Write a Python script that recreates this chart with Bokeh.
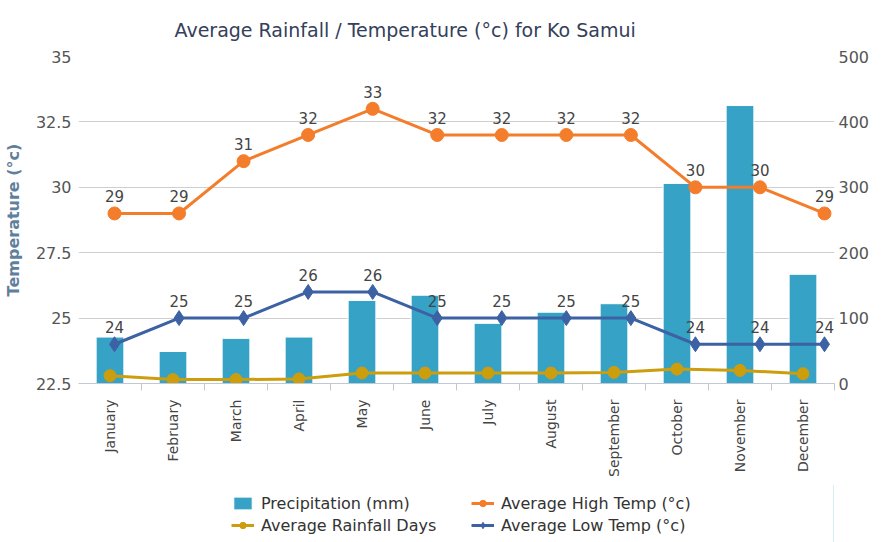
import math
from bokeh.plotting import figure
from bokeh.layouts import column
from bokeh.models import (Range1d, LinearAxis, FixedTicker, Legend, LegendItem,
                          ColumnDataSource, LabelSet, Title)
from bokeh.core.properties import value
from bokeh.embed import file_html
from bokeh.resources import INLINE

months = ["January", "February", "March", "April", "May", "June", "July",
          "August", "September", "October", "November", "December"]
precip_mm = [71, 49, 69, 71, 127, 135, 92, 109, 122, 306, 425, 167]
rain_days = [12, 6, 6, 7, 16, 16, 16, 16, 17, 22, 20, 15]
high_c = [29, 29, 31, 32, 33, 32, 32, 32, 32, 30, 30, 29]
low_c = [24, 25, 25, 26, 26, 25, 25, 25, 25, 24, 24, 24]
temp_ticks = [22.5, 25, 27.5, 30, 32.5, 35]
temp_tick_labels = ["22.5", "25", "27.5", "30", "32.5", "35"]
precip_ticks = [0, 100, 200, 300, 400, 500]

FONT = "DejaVu Sans"
BAR_C = "#36a2c6"
HIGH_C = "#f47d2b"
LOW_C = "#3d62a3"
DAYS_C = "#cc9e0e"

idx = list(range(len(months)))

p = figure(frame_width=756, frame_height=327, output_backend="svg", toolbar_location=None,
           x_range=Range1d(-0.5, len(months) - 0.5),
           y_range=Range1d(temp_ticks[0], temp_ticks[-1]),
           min_border_left=77, min_border_right=49, min_border_top=56,
           min_border_bottom=102)
p.extra_x_ranges = {"temp": Range1d(-0.558, 11.155)}
p.extra_y_ranges = {"precip": Range1d(precip_ticks[0], precip_ticks[-1])}
p.outline_line_color = None
p.background_fill_color = "white"
p.border_fill_color = "white"

p.add_layout(Title(text="Average Rainfall / Temperature (°c) for Ko Samui",
                   align="left", offset=96, text_font=FONT, text_font_size="19px",
                   text_font_style="normal", text_color="#34405a", standoff=32), "above")

# axes
xa = p.xaxis[0]
xa.ticker = FixedTicker(ticks=idx, minor_ticks=[i + 0.5 for i in idx])
xa.major_label_overrides = {i: m for i, m in enumerate(months)}
xa.major_label_orientation = math.pi / 2
xa.major_tick_out = 0
xa.major_tick_in = 0
xa.minor_tick_out = 7
xa.minor_tick_in = 0
xa.minor_tick_line_color = "#c0c8d6"
xa.axis_line_color = "#c0c8d6"
xa.major_label_standoff = 9
xa.major_label_text_font = FONT
xa.major_label_text_font_size = "14px"
xa.major_label_text_color = "#444444"

ya = p.yaxis[0]
ya.ticker = FixedTicker(ticks=temp_ticks)
ya.major_label_overrides = dict(zip(temp_ticks, temp_tick_labels))
ya.axis_line_color = None
ya.major_tick_line_color = None
ya.minor_tick_line_color = None
ya.major_tick_out = 0
ya.minor_tick_out = 0
ya.major_label_standoff = 7
ya.major_label_text_font = FONT
ya.major_label_text_font_size = "16px"
ya.major_label_text_color = "#555555"
ya.axis_label = "Temperature (°c)"
ya.axis_label_text_font = FONT
ya.axis_label_text_font_size = "16px"
ya.axis_label_text_font_style = "bold"
ya.axis_label_text_color = "#5f7f9c"
ya.axis_label_standoff = 10

ra = LinearAxis(y_range_name="precip", ticker=FixedTicker(ticks=precip_ticks))
ra.axis_line_color = None
ra.major_tick_line_color = None
ra.minor_tick_line_color = None
ra.major_tick_out = 0
ra.minor_tick_out = 0
ra.major_label_standoff = 4
ra.major_label_text_font = FONT
ra.major_label_text_font_size = "16px"
ra.major_label_text_color = "#555555"
p.add_layout(ra, "right")

p.xgrid.grid_line_color = None
p.ygrid.grid_line_color = "#cfcfcf"
p.ygrid.grid_line_width = 1

# bars
p.vbar(x=idx, top=precip_mm, bottom=0, width=0.44, y_range_name="precip",
       fill_color=BAR_C, line_color="white", line_width=1)

# rainfall days
p.line(x=idx, y=rain_days, y_range_name="precip", line_color=DAYS_C, line_width=3)
p.scatter(x=idx, y=rain_days, y_range_name="precip", marker="circle", size=12,
          fill_color=DAYS_C, line_color=DAYS_C)

# temperatures
p.line(x=idx, y=high_c, x_range_name="temp", line_color=HIGH_C, line_width=3)
p.scatter(x=idx, y=high_c, x_range_name="temp", marker="circle", size=13,
          fill_color=HIGH_C, line_color=HIGH_C)
p.line(x=idx, y=low_c, x_range_name="temp", line_color=LOW_C, line_width=3)
p.scatter(x=idx, y=low_c, x_range_name="temp", marker="diamond", size=15,
          fill_color=LOW_C, line_color=LOW_C)

for vals in (high_c, low_c):
    src = ColumnDataSource(dict(x=idx, y=vals, t=[str(v) for v in vals]))
    p.add_layout(LabelSet(x="x", y="y", text="t", source=src, x_range_name="temp",
                          y_offset=11, text_align="center", text_baseline="alphabetic",
                          text_font=value(FONT), text_font_size=value("15px"),
                          text_color=value("#444444")))

# ---- legend strip: a second figure whose series sit outside its visible range ----
lf = figure(width=882, height=57, output_backend="svg", toolbar_location=None,
            x_range=Range1d(-3, -2), y_range=Range1d(0, 1),
            x_axis_location=None, y_axis_location=None,
            min_border_left=0, min_border_right=0, min_border_top=0, min_border_bottom=0)
lf.grid.visible = False
lf.outline_line_color = None
lf.background_fill_color = "white"
lf.border_fill_color = "white"

pb = lf.vbar(x=idx, top=precip_mm, bottom=0, width=0.44, fill_color=BAR_C,
             line_color="white")
pdl = lf.line(x=idx, y=rain_days, line_color=DAYS_C, line_width=3)
pds = lf.scatter(x=idx, y=rain_days, marker="circle", size=12,
                 fill_color=DAYS_C, line_color=DAYS_C)
phl = lf.line(x=idx, y=high_c, line_color=HIGH_C, line_width=3)
phs = lf.scatter(x=idx, y=high_c, marker="circle", size=12,
                 fill_color=HIGH_C, line_color=HIGH_C)
pll = lf.line(x=idx, y=low_c, line_color=LOW_C, line_width=3)
pls = lf.scatter(x=idx, y=low_c, marker="diamond", size=14,
                 fill_color=LOW_C, line_color=LOW_C)


def make_legend(items, loc):
    lg = Legend(items=items, orientation="horizontal", location=loc)
    lg.border_line_color = None
    lg.background_fill_alpha = 0
    lg.label_text_font = FONT
    lg.label_text_font_size = "16px"
    lg.label_text_color = "#333333"
    lg.glyph_width = 23
    lg.glyph_height = 16
    lg.label_standoff = 7
    lg.label_width = 190
    lg.label_height = 22
    lg.spacing = 20
    lg.padding = 0
    lg.margin = 0
    return lg


lf.add_layout(make_legend([
    LegendItem(label="Precipitation (mm)", renderers=[pb]),
    LegendItem(label="Average High Temp (°c)", renderers=[phl, phs]),
], (153, 28)))
lf.add_layout(make_legend([
    LegendItem(label="Average Rainfall Days", renderers=[pdl, pds]),
    LegendItem(label="Average Low Temp (°c)", renderers=[pll, pls]),
], (153, 6)))

layout = column(p, lf, spacing=0)
open("out.html", "w").write(file_html(layout, INLINE))
